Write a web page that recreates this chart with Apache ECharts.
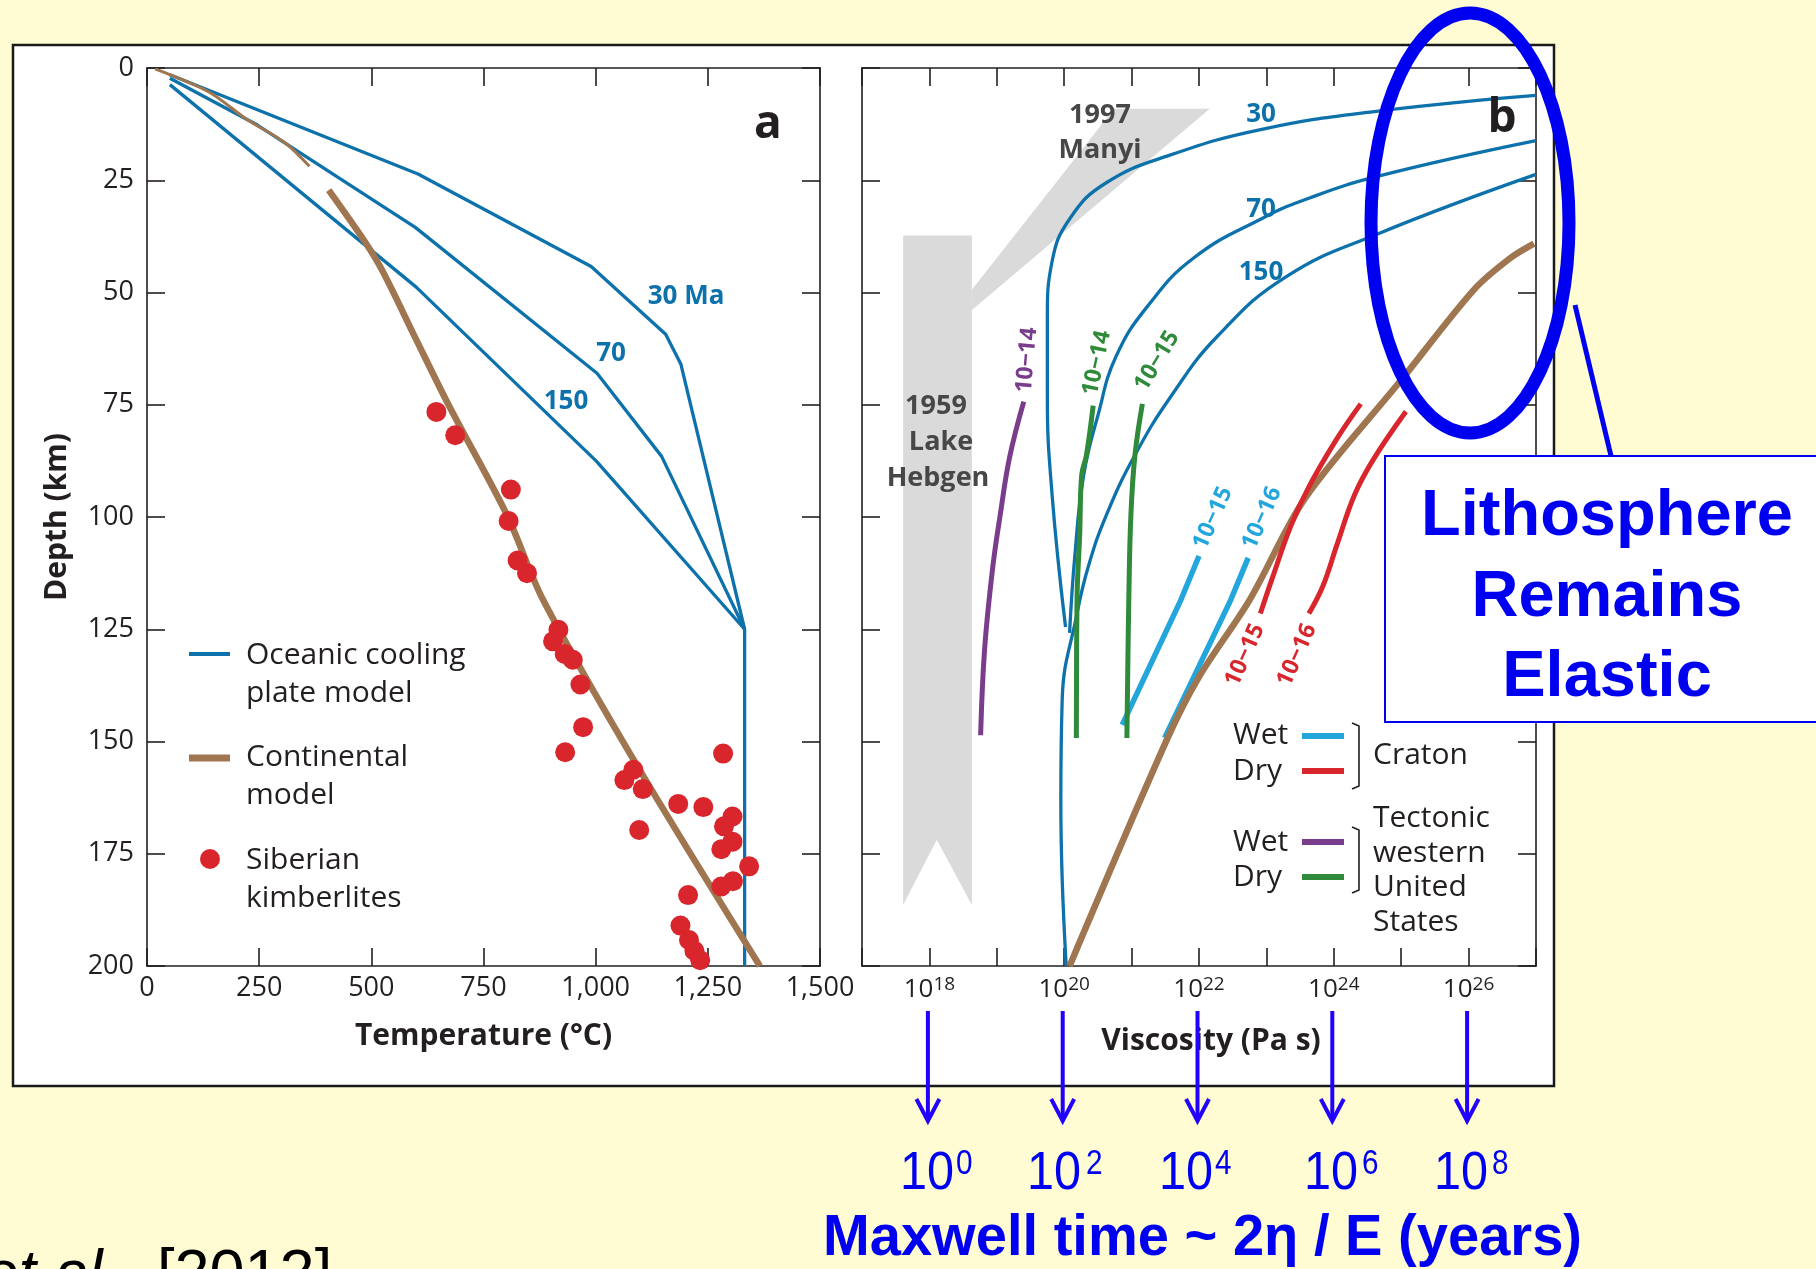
<!DOCTYPE html>
<html><head><meta charset="utf-8">
<script src="https://cdn.jsdelivr.net/npm/echarts/dist/echarts.min.js"></script>
<style>html,body{margin:0;padding:0;background:#FFFBD2;}#c{width:1816px;height:1269px;}</style>
</head><body><div id="c"></div>
<script>
// ---------------- DATA ----------------
// Panel a: temperature (°C) vs depth (km)
const ocean30A = [[51,1.5],[604,23.6],[990,44.2],[1156,59.3],[1190,66],[1332,125],[1332,200]];
const ocean70A = [[51,2.3],[246,12.7],[598,35.5],[1003,68],[1147,86.5],[1332,125]];
const ocean150A = [[51,3.7],[600,48.8],[1002,87.6],[1332,125]];
const contThinA = [[18,0.2],[137,5.3],[222,11.4],[308,16.7],[362,21.9]];
const contThickA = [[405,27.2],[485,38.6],[527,45.6],[600,60.5],[674,75.4],[802,99.5],[883,118.5],[1090,155],[1366,200]];
const kimberlites = [[645,76.6],[687,81.8],[811,93.9],[806,100.9],[826,109.7],[847,112.5],[917,125.1],[905,127.7],
  [931,130.5],[949,131.8],[966,137.3],[972,146.8],[932,152.4],[1284,152.7],[1084,156.3],[1064,158.6],[1105,160.6],
  [1184,163.9],[1240,164.6],[1305,166.7],[1286,168.9],[1097,169.7],[1305,172.3],[1280,174.0],[1342,177.8],
  [1306,181.1],[1280,182.3],[1206,184.2],[1189,191.0],[1208,194.2],[1220,196.6],[1233,198.7]];

// Panel b: log10 viscosity (Pa s) vs depth (km)
const ocean30B = [[27.0,6.1],[24.66,9.6],[22.95,13.6],[21.59,19.3],[20.63,25.5],[20.09,33.4],[19.82,43.1],[19.75,55.4],[19.75,73.0],[19.82,95.0],[20.02,124.5]];
const ocean70B = [[27.0,16.2],[24.66,24.1],[23.63,29.0],[22.95,33.4],[21.93,42.2],[21.25,52.8],[20.77,64.2],[20.5,77.4],[20.29,90.6],[20.16,108.2],[20.08,125.8]];
const ocean150B = [[27.0,23.7],[24.66,36.9],[23.29,46.5],[22.27,59.8],[21.59,73.0],[21.05,86.2],[20.63,99.4],[20.36,110.9],[20.19,121.5],[19.97,140.8],[19.95,163],[20.03,200]];
const contB = [[20.08,200],[21.52,149.7],[22.0,135.6],[22.75,118.5],[23.57,95.9],[25.0,69.5],[26.09,49.2],[26.63,42.2],[26.97,39.1]];
const wetTecton14 = [[19.40,74.3],[19.19,86.7],[19.05,99.6],[18.94,111.2],[18.82,129.3],[18.76,148.6]];
const dryTecton14 = [[20.43,75.2],[20.33,86.2],[20.26,90.6],[20.23,103.8],[20.19,118.5],[20.18,149.2]];
const dryTecton15 = [[21.16,74.8],[21.05,86.2],[20.99,99.4],[20.96,117],[20.93,149.2]];
const wetCraton15 = [[22.0,108.7],[21.73,118.5],[20.86,146.3]];
const wetCraton16 = [[22.73,109.1],[22.47,118.5],[21.49,149.2]];
const dryCraton15 = [[24.40,74.8],[24.04,82.7],[23.63,93.3],[23.36,102.1],[23.09,113.5],[22.91,121.5]];
const dryCraton16 = [[25.07,76.5],[24.59,87.1],[24.31,95.0],[24.04,106.5],[23.84,115.3],[23.63,121.5]];
const hebgenBand = [[17.61,37.3],[18.63,37.3],[18.63,186.4],[18.11,171.9],[17.61,186.4]];
const manyiWedge = [[20.74,9.1],[22.16,9.1],[18.63,53.9],[18.63,49.4]];

// Maxwell-time scale
const maxwellExps = [18,20,22,24,26];
const maxwellLabels = ['0','2','4','6','8'];

// ---------------- STYLE ----------------
const FONT = '"Open Sans","Noto Sans","DejaVu Sans",sans-serif';
const ARIAL = '"Liberation Sans",Arial,sans-serif';
const DARK = '#231f20';
const OCEAN = '#0d72ab', BROWN = '#9f7650', RED = '#d8262c', LBLUE = '#22a6dc', PURPLE = '#7a3d8c', GREEN = '#2f8a3a', GRAY = '#dadada';
const BLUE = '#0000F0', ARROW = '#2200FF';

const chart = echarts.init(document.getElementById('c'), null, {renderer:'canvas'});
const axl = {color: DARK, width: 1.6};

function fmtK(v){ return v >= 1000 ? Math.floor(v/1000) + ',' + String(v%1000).padStart(3,'0') : String(v); }

function xAx(grid, pos, min, max, interval, label, extra) {
  return Object.assign({gridIndex:grid, type:'value', position:pos, min, max, interval,
    axisLine:{show:true, onZero:false, lineStyle:axl},
    axisTick:{show:true, inside:true, length:18, lineStyle:axl},
    splitLine:{show:false}, axisLabel: label || {show:false}}, extra || {});
}
function yAx(grid, pos, label, extra) {
  return Object.assign({gridIndex:grid, type:'value', position:pos, min:0, max:200, interval:25, inverse:true,
    axisLine:{show:true, onZero:false, lineStyle:axl},
    axisTick:{show:true, inside:true, length:18, lineStyle:axl},
    splitLine:{show:false}, axisLabel: label || {show:false}}, extra || {});
}
function ln(data, color, width, idx, z, smooth) {
  return {type:'line', xAxisIndex:idx, yAxisIndex:idx, data, symbol:'none', showSymbol:false, smooth: smooth || false,
    lineStyle:{color, width, cap:'butt', join:'round'}, z: z || 3, silent:true, animation:false};
}
function poly(points, idx) {
  return {type:'custom', xAxisIndex:idx, yAxisIndex:idx, data:[0], z:1, silent:true, animation:false,
    renderItem: (p, api) => ({type:'polygon', shape:{points: points.map(q => api.coord(q))}, style:{fill:GRAY}})};
}

const option = {
  animation:false,
  backgroundColor:'#FFFBD2',
  grid:[
    {left:147, top:68, width:673, height:898, outerBoundsMode:'none', containLabel:false},
    {left:862, top:68, width:674, height:898, outerBoundsMode:'none', containLabel:false}
  ],
  xAxis:[
    xAx(0,'bottom',0,1500,250,{show:true, margin:9, fontSize:27, fontFamily:FONT, color:DARK, formatter:fmtK, showMinLabel:true, showMaxLabel:true},
      {name:'Temperature (°C)', nameLocation:'middle', nameGap:55, nameMoveOverlap:false,
       nameTextStyle:{fontSize:30, fontWeight:'bold', fontFamily:FONT, color:DARK}}),
    xAx(0,'top',0,1500,250),
    xAx(1,'bottom',17,27,1,{show:true, margin:9, fontFamily:FONT, color:DARK, showMinLabel:true, showMaxLabel:true,
      formatter: v => { const e = Math.round(v); return e % 2 === 0 ? '{b|10}{s|' + e + '}' : ''; },
      rich:{ b:{fontSize:26, fontFamily:FONT, color:DARK, lineHeight:30}, s:{fontSize:19, fontFamily:FONT, color:DARK, verticalAlign:'top', lineHeight:18} }},
      {name:'Viscosity (Pa s)', nameLocation:'middle', nameGap:60, nameMoveOverlap:false,
       nameTextStyle:{fontSize:30, fontWeight:'bold', fontFamily:FONT, color:DARK, padding:[0,0,0,24]}}),
    xAx(1,'top',17,27,1)
  ],
  yAxis:[
    yAx(0,'left',{show:true, margin:13, fontSize:27, fontFamily:FONT, color:DARK, showMinLabel:true, showMaxLabel:true},
      {name:'Depth (km)', nameLocation:'middle', nameGap:75, nameMoveOverlap:false,
       nameTextStyle:{fontSize:30, fontWeight:'bold', fontFamily:FONT, color:DARK}}),
    yAx(0,'right'),
    yAx(1,'left'),
    yAx(1,'right')
  ],
  series:[
    ln(ocean30A, OCEAN, 3.3, 0, 3),
    ln(ocean70A, OCEAN, 3.3, 0, 3),
    ln(ocean150A, OCEAN, 3.3, 0, 3),
    ln(contThinA, BROWN, 3, 0, 4, 0.3),
    ln(contThickA, BROWN, 6.5, 0, 4, 0.3),
    {type:'scatter', xAxisIndex:0, yAxisIndex:0, data:kimberlites, symbol:'circle', symbolSize:20,
     itemStyle:{color:RED, opacity:1}, z:6, silent:true, animation:false},
    poly(hebgenBand, 2),
    poly(manyiWedge, 2),
    ln(ocean30B, OCEAN, 3.3, 2, 3, 0.45),
    ln(ocean70B, OCEAN, 3.3, 2, 3, 0.45),
    ln(ocean150B, OCEAN, 3.3, 2, 3, 0.45),
    ln(wetCraton15, LBLUE, 5.5, 2, 4),
    ln(wetCraton16, LBLUE, 5.5, 2, 4),
    ln(contB, BROWN, 6.5, 2, 5, 0.3),
    ln(wetTecton14, PURPLE, 5, 2, 6, 0.4),
    ln(dryTecton14, GREEN, 5, 2, 6, 0.4),
    ln(dryTecton15, GREEN, 5, 2, 6, 0.4),
    ln(dryCraton15, RED, 5, 2, 6, 0.4),
    ln(dryCraton16, RED, 5, 2, 6, 0.4)
  ]
};
chart.setOption(option);

// ---------------- ANNOTATIONS ----------------
function T(text, x, y, size, st, el) {
  return Object.assign({type:'text', x, y, z:50, silent:true,
    style:Object.assign({text, fontSize:size, fontFamily:FONT, fill:DARK, align:'left', verticalAlign:'middle'}, st || {})}, el || {});
}
const D2R = Math.PI/180;
const G = [];
// white figure box
G.push({type:'rect', z:-10, silent:true, shape:{x:13,y:45,width:1541,height:1041}, style:{fill:'#fff', stroke:'#1a1a1a', lineWidth:2.5}});
// panel a legend
G.push({type:'line', z:50, shape:{x1:189,y1:654,x2:230,y2:654}, style:{stroke:OCEAN, lineWidth:4}});
G.push(T('Oceanic cooling', 246, 655, 30));
G.push(T('plate model', 246, 693, 30));
G.push({type:'line', z:50, shape:{x1:189,y1:758,x2:230,y2:758}, style:{stroke:BROWN, lineWidth:7}});
G.push(T('Continental', 246, 757, 30));
G.push(T('model', 246, 795, 30));
G.push({type:'circle', z:50, shape:{cx:210, cy:859, r:10}, style:{fill:RED}});
G.push(T('Siberian', 246, 860, 30));
G.push(T('kimberlites', 246, 898, 30));
// panel a curve labels
G.push(T('30 Ma', 686, 297, 26, {fill:OCEAN, fontWeight:'bold', align:'center'}));
G.push(T('70', 611, 354, 26, {fill:OCEAN, fontWeight:'bold', align:'center'}));
G.push(T('150', 566, 402, 26, {fill:OCEAN, fontWeight:'bold', align:'center'}));
G.push(T('a', 768, 125, 46, {fontWeight:'bold', align:'center'}));
G.push(T('b', 1502, 119, 46, {fontWeight:'bold', align:'center'}));
// panel b labels
G.push(T('30', 1261, 115, 26, {fill:OCEAN, fontWeight:'bold', align:'center'}));
G.push(T('70', 1261, 210, 26, {fill:OCEAN, fontWeight:'bold', align:'center'}));
G.push(T('150', 1261, 273, 26, {fill:OCEAN, fontWeight:'bold', align:'center'}));
G.push(T('1997', 1100, 115, 27, {fill:'#474747', fontWeight:'bold', align:'center'}));
G.push(T('Manyi', 1100, 150, 27, {fill:'#474747', fontWeight:'bold', align:'center'}));
G.push(T('1959', 936, 406, 27, {fill:'#474747', fontWeight:'bold', align:'center'}));
G.push(T('Lake', 941, 442, 27, {fill:'#474747', fontWeight:'bold', align:'center'}));
G.push(T('Hebgen', 938, 478, 27, {fill:'#474747', fontWeight:'bold', align:'center'}));
// strain-rate labels
const sr = [['10\u221214',1027,360,85,PURPLE],['10\u221214',1097,363,78,GREEN],['10\u221215',1157,361,59,GREEN],
            ['10\u221215',1213,518,66,LBLUE],['10\u221216',1262,518,66,LBLUE],['10\u221215',1245,655,66,RED],['10\u221216',1297,655,66,RED]];
sr.forEach(s => G.push(T(s[0], s[1], s[2], 23, {fill:s[4], fontWeight:'bold', align:'center'}, {rotation:s[3]*D2R})));
// panel b legend
G.push(T('Wet', 1233, 735, 30));
G.push({type:'line', z:50, shape:{x1:1302,y1:736,x2:1344,y2:736}, style:{stroke:LBLUE, lineWidth:6}});
G.push(T('Dry', 1233, 771, 30));
G.push({type:'line', z:50, shape:{x1:1302,y1:771,x2:1344,y2:771}, style:{stroke:RED, lineWidth:6}});
G.push({type:'polyline', z:50, shape:{points:[[1352,723],[1359,726],[1359,786],[1352,789]]}, style:{stroke:DARK, lineWidth:1.6, fill:null}});
G.push(T('Craton', 1373, 755, 30));
G.push(T('Wet', 1233, 842, 30));
G.push({type:'line', z:50, shape:{x1:1302,y1:842,x2:1344,y2:842}, style:{stroke:PURPLE, lineWidth:6}});
G.push(T('Dry', 1233, 877, 30));
G.push({type:'line', z:50, shape:{x1:1302,y1:877,x2:1344,y2:877}, style:{stroke:GREEN, lineWidth:6}});
G.push({type:'polyline', z:50, shape:{points:[[1352,827],[1359,830],[1359,890],[1352,893]]}, style:{stroke:DARK, lineWidth:1.6, fill:null}});
G.push(T('Tectonic', 1373, 818, 30));
G.push(T('western', 1373, 853, 30));
G.push(T('United', 1373, 887, 30));
G.push(T('States', 1373, 922, 30));
// ellipse + callout
G.push({type:'ellipse', z:80, silent:true, shape:{cx:1470, cy:223, rx:99, ry:210}, style:{fill:null, stroke:BLUE, lineWidth:13}});
G.push({type:'line', z:80, shape:{x1:1575,y1:305,x2:1611,y2:456}, style:{stroke:BLUE, lineWidth:5}});
G.push({type:'rect', z:85, shape:{x:1385,y:456,width:445,height:266}, style:{fill:'#fff', stroke:BLUE, lineWidth:2}});
['Lithosphere','Remains','Elastic'].forEach((t,i) => G.push(T(t, 1607, [540,621,701][i] - 0.36*65, 65,
  {fill:BLUE, fontWeight:'bold', fontFamily:ARIAL, align:'center'}, {z:90})));
// Maxwell-time arrows and labels
const supX = [56, 59, 56, 58, 58];
maxwellExps.forEach((e, i) => {
  const x = chart.convertToPixel({xAxisIndex:2}, e) - 1.5;
  G.push({type:'line', z:95, shape:{x1:x,y1:1011,x2:x,y2:1119}, style:{stroke:ARROW, lineWidth:4}});
  G.push({type:'polyline', z:95, shape:{points:[[x-11.5,1099],[x,1121],[x+11.5,1099]]}, style:{stroke:ARROW, lineWidth:4, fill:null}});
});
const tenX = [900, 1027, 1159, 1304, 1434];
tenX.forEach((x, i) => {
  G.push(T('10', x, 1174.5, 54, {fill:BLUE, fontFamily:ARIAL}, {scaleX:0.9}));
  G.push(T(maxwellLabels[i], x + supX[i], 1164, 35, {fill:BLUE, fontFamily:ARIAL}, {scaleX:0.85}));
});
G.push(T('Maxwell time ~ 2\u03b7 / E (years)', 823, 1239, 58, {fill:BLUE, fontWeight:'bold', fontFamily:ARIAL}, {scaleX:0.967}));
// citation (cut off at page edge)
G.push(T('et al.', 120, 1276, 63, {fill:'#000', fontStyle:'italic', fontFamily:ARIAL, align:'right'}));
G.push(T('[2012]', 157, 1276, 63, {fill:'#000', fontFamily:ARIAL}));

chart.setOption({graphic:{elements:G}});
</script></body></html>
